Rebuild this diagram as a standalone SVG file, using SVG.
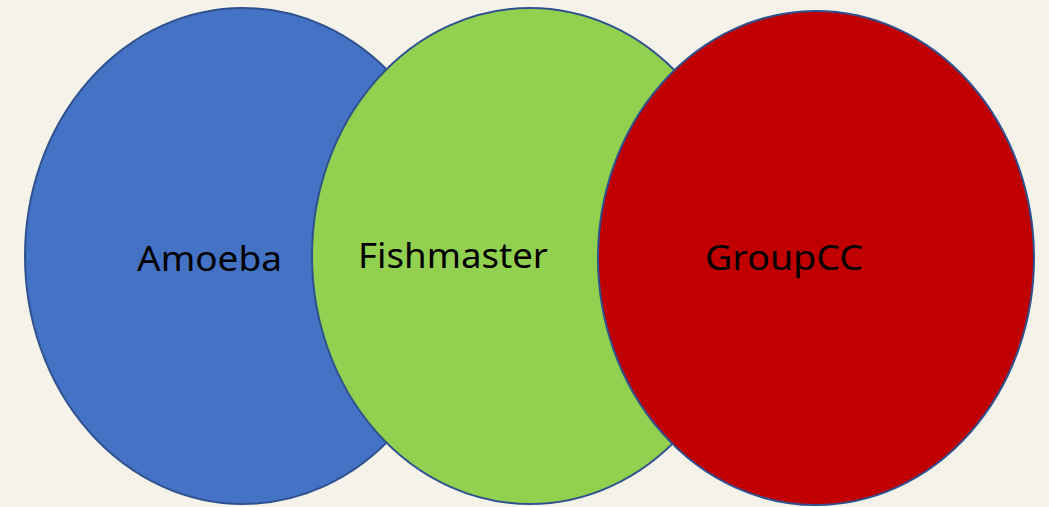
<svg xmlns="http://www.w3.org/2000/svg" width="1049" height="507" viewBox="0 0 1049 507">
  <style>
    .set { stroke: #2F528F; stroke-width: 2; }
    .label { font-family: "Noto Sans", "Open Sans", sans-serif; font-size: 35px; fill: #000000; }
  </style>
  <rect x="0" y="0" width="1049" height="507" fill="#F5F2EA"/>
  <g id="amoeba">
    <ellipse class="set" cx="243" cy="256" rx="218" ry="248" fill="#4472C4"/>
  </g>
  <g id="fishmaster">
    <ellipse class="set" cx="530" cy="256" rx="218" ry="248" fill="#92D050"/>
  </g>
  <g id="groupcc">
    <ellipse class="set" cx="816" cy="258" rx="218" ry="247" fill="#C00000"/>
  </g>
  <g id="labels">
    <text class="label" x="137" y="271" textLength="145" lengthAdjust="spacingAndGlyphs">Amoeba</text>
    <text class="label" x="358" y="268" textLength="190" lengthAdjust="spacingAndGlyphs">Fishmaster</text>
    <text class="label" x="705" y="270" textLength="158" lengthAdjust="spacingAndGlyphs">GroupCC</text>
  </g>
</svg>
